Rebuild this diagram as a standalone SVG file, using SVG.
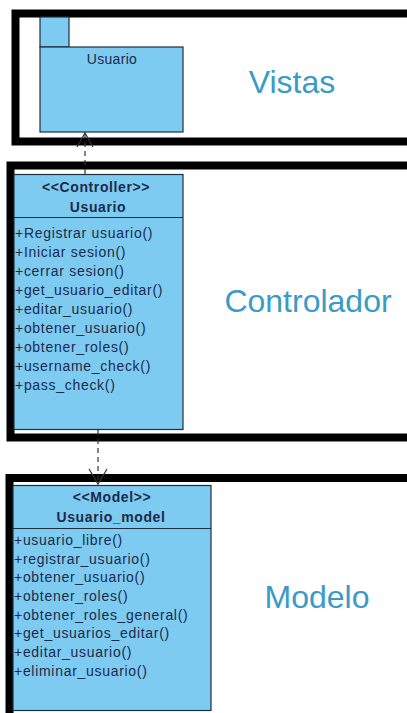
<svg xmlns="http://www.w3.org/2000/svg" width="407" height="713" viewBox="0 0 407 713">
  <defs>
    <style>
      .frame { fill: none; stroke: #000; stroke-width: 8; }
      .box { fill: #7ECBF1; stroke: #1F2E3C; stroke-width: 1.2; }
      .div { stroke: #1F2E3C; stroke-width: 1.2; }
      .hdr { font-family: "Liberation Sans", Arial, sans-serif; font-size: 14px; font-weight: bold; fill: #1B2A4A; letter-spacing: 0.6px; text-anchor: middle; }
      .op { font-family: "Liberation Sans", Arial, sans-serif; font-size: 14px; fill: #1B2A4A; letter-spacing: 0.7px; }
      .pkg { font-family: "Liberation Sans", Arial, sans-serif; font-size: 14px; fill: #1B2A4A; letter-spacing: 0.3px; text-anchor: middle; }
      .layer { font-family: "Liberation Sans", Arial, sans-serif; font-size: 32px; fill: #3A9BC6; text-anchor: middle; }
      .dep { fill: none; stroke: #333; stroke-width: 1.2; stroke-dasharray: 5 4; }
      .head { fill: none; stroke: #333; stroke-width: 1.2; }
    </style>
  </defs>
  <rect width="407" height="713" fill="#fff"/>

  <g id="frame-vistas">
    <rect class="frame" x="15.5" y="13.5" width="420" height="128"/>
    <text class="layer" x="292" y="93">Vistas</text>
  </g>
  <g id="frame-controlador">
    <rect class="frame" x="10.5" y="165.5" width="420" height="272"/>
    <text class="layer" x="308" y="312">Controlador</text>
  </g>
  <g id="frame-modelo">
    <rect class="frame" x="9.5" y="478" width="420" height="260"/>
    <text class="layer" x="317" y="608">Modelo</text>
  </g>

  <g id="pkg-usuario">
    <rect class="box" x="40" y="17" width="29" height="30"/>
    <rect class="box" x="40" y="47" width="143" height="85"/>
    <text class="pkg" x="112" y="64">Usuario</text>
  </g>

  <g id="class-controller">
    <rect class="box" x="14" y="174.5" width="169" height="255"/>
    <line class="div" x1="14" y1="217.5" x2="183" y2="217.5"/>
    <text class="hdr" x="96" y="192">&lt;&lt;Controller&gt;&gt;</text>
    <text class="hdr" x="98" y="212">Usuario</text>
    <text class="op" x="15" y="238">+Registrar usuario()</text>
    <text class="op" x="15" y="257">+Iniciar sesion()</text>
    <text class="op" x="15" y="276">+cerrar sesion()</text>
    <text class="op" x="15" y="295">+get_usuario_editar()</text>
    <text class="op" x="15" y="314">+editar_usuario()</text>
    <text class="op" x="15" y="333">+obtener_usuario()</text>
    <text class="op" x="15" y="352">+obtener_roles()</text>
    <text class="op" x="15" y="371">+username_check()</text>
    <text class="op" x="15" y="390">+pass_check()</text>
  </g>

  <g id="class-model">
    <rect class="box" x="13" y="485.5" width="198" height="225"/>
    <line class="div" x1="13" y1="528.5" x2="211" y2="528.5"/>
    <text class="hdr" x="112" y="502">&lt;&lt;Model&gt;&gt;</text>
    <text class="hdr" x="111" y="522">Usuario_model</text>
    <text class="op" x="14" y="545">+usuario_libre()</text>
    <text class="op" x="14" y="564">+registrar_usuario()</text>
    <text class="op" x="14" y="582">+obtener_usuario()</text>
    <text class="op" x="14" y="601">+obtener_roles()</text>
    <text class="op" x="14" y="620">+obtener_roles_general()</text>
    <text class="op" x="14" y="638">+get_usuarios_editar()</text>
    <text class="op" x="14" y="657">+editar_usuario()</text>
    <text class="op" x="14" y="676">+eliminar_usuario()</text>
  </g>

  <g id="connectors">
    <line class="dep" x1="85" y1="174" x2="85" y2="133"/>
    <polyline class="head" points="77,147 85,133 93,147"/>
    <line class="dep" x1="98" y1="430" x2="98" y2="484"/>
    <polyline class="head" points="89,469 98,484 107,469"/>
  </g>
</svg>
